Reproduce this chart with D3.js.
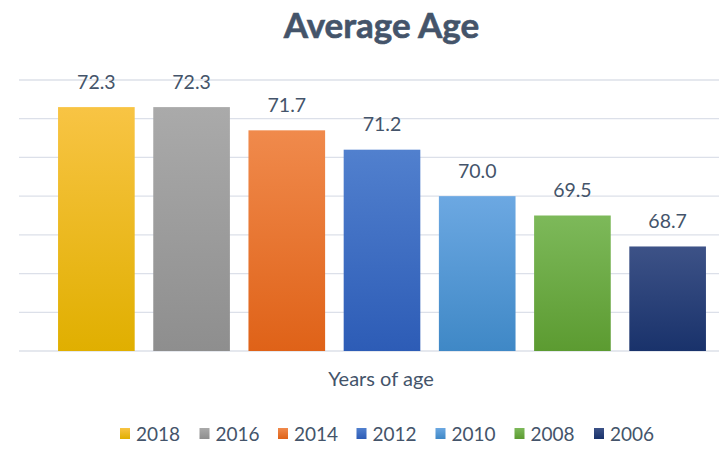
<!DOCTYPE html>
<html><head><meta charset="utf-8">
<script src="https://cdn.jsdelivr.net/npm/d3@7"></script>
<style>html,body{margin:0;padding:0;background:#fff;}svg{display:block;font-family:Lato,"Open Sans",sans-serif;}</style>
</head><body>
<script>
const categories = ["2018","2016","2014","2012","2010","2008","2006"];
const values = [72.3, 72.3, 71.7, 71.2, 70.0, 69.5, 68.7];
const yTicks = [66, 67, 68, 69, 70, 71, 72, 73];
const colorTop = ["#F8C444","#AAAAAA","#F08A4C","#5180CE","#6CA8E2","#7DB95A","#3D5287"];
const colorBottom = ["#E0AF00","#8E8E8E","#DF6218","#2D5CB6","#3F88C6","#5C9B31","#19326B"];
const title = "Average Age";
const xTitle = "Years of age";

const W = 725, H = 468;
const svg = d3.select("body").append("svg").attr("width", W).attr("height", H);
const textColor = "#44546A";

const y = d3.scaleLinear().domain([66, 73]).range([351, 80]);
const x = d3.scaleBand().domain(categories).range([49, 715]).paddingInner(0.195).paddingOuter(0.095);

const defs = svg.append("defs");
categories.forEach((c, i) => {
  const g = defs.append("linearGradient").attr("id", "g" + i).attr("x1", 0).attr("y1", 0).attr("x2", 0).attr("y2", 1);
  g.append("stop").attr("offset", "0%").attr("stop-color", colorTop[i]);
  g.append("stop").attr("offset", "100%").attr("stop-color", colorBottom[i]);
});

// gridlines
svg.append("g").selectAll("line").data(yTicks).join("line")
  .attr("x1", 19).attr("x2", 719)
  .attr("y1", d => y(d)).attr("y2", d => y(d))
  .attr("stroke", "#DCE0E9").attr("stroke-width", 1.3);

// bars
svg.append("g").selectAll("rect").data(values).join("rect")
  .attr("x", (d, i) => x(categories[i]))
  .attr("width", x.bandwidth())
  .attr("y", d => y(d))
  .attr("height", d => y(66) - y(d))
  .attr("fill", (d, i) => `url(#g${i})`);

// value labels
svg.append("g").selectAll("text").data(values).join("text")
  .attr("x", (d, i) => x(categories[i]) + x.bandwidth() / 2)
  .attr("y", d => y(d) - 18.5)
  .attr("text-anchor", "middle")
  .attr("font-size", 19.5)
  .attr("fill", textColor)
  .text(d => d.toFixed(1));

// title
svg.append("text").attr("x", 381.5).attr("y", 37.5).attr("text-anchor", "middle")
  .attr("font-size", 35).attr("font-weight", "bold").attr("fill", textColor)
  .attr("stroke", textColor).attr("stroke-width", 0.6).text(title);

// x axis title
svg.append("text").attr("x", 381).attr("y", 386).attr("text-anchor", "middle")
  .attr("font-size", 20).attr("fill", textColor).text(xTitle);

// legend
const legX = [120, 199.5, 278, 356.5, 435.5, 514.5, 594];
const leg = svg.append("g").selectAll("g").data(categories).join("g")
  .attr("transform", (d, i) => `translate(${legX[i]},434)`);
leg.append("rect").attr("x", 0).attr("y", -6).attr("width", 10).attr("height", 11)
  .attr("fill", (d, i) => `url(#g${i})`);
leg.append("text").attr("x", 16).attr("y", 7).attr("font-size", 19).attr("fill", textColor).text(d => d);
</script>
</body></html>
